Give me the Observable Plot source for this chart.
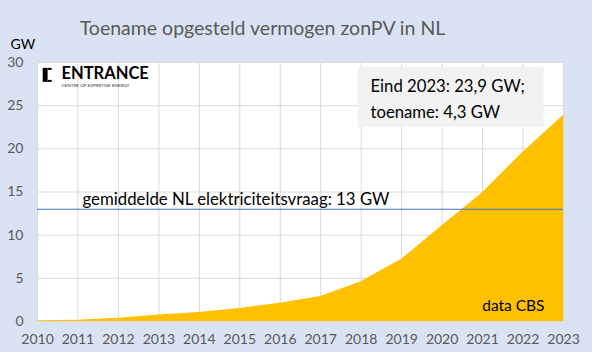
<!DOCTYPE html>
<html><head><meta charset="utf-8">
<script src="https://cdn.jsdelivr.net/npm/d3@7"></script>
<script src="https://cdn.jsdelivr.net/npm/@observablehq/plot@0.6"></script>
<style>
body{margin:0;background:#DAE3F3;}
#chart svg{display:block;}
</style>
</head><body><div id="chart"></div>
<script>
const years = [2010,2011,2012,2013,2014,2015,2016,2017,2018,2019,2020,2021,2022,2023];
const capacityGW = [0.09,0.15,0.37,0.74,1.05,1.52,2.1,2.9,4.6,7.2,11.1,14.9,19.6,23.9];
const yTicks = [0,5,10,15,20,25,30];
const demandGW = 13;
const titleText = "Toename opgesteld vermogen zonPV in NL";
const unitText = "GW";
const demandText = "gemiddelde NL elektriciteitsvraag: 13 GW";
const boxLines = "Eind 2023: 23,9 GW;\ntoename: 4,3 GW";
const sourceText = "data CBS";
const logoText = "ENTRANCE";
const logoSub = "CENTRE OF EXPERTISE ENERGY";
// annotation box extent in data units
const boxX = [2017.93, 2022.52];
const boxY = [22.5, 29.4];
// logo bracket pieces (data units)
const logoParts = [
  {x1: 2010.141, x2: 2010.262, y1: 27.70, y2: 29.32},
  {x1: 2010.262, x2: 2010.363, y1: 29.09, y2: 29.32},
  {x1: 2010.262, x2: 2010.363, y1: 27.70, y2: 27.93}
];

const data = years.map((y, i) => ({year: y, gw: capacityGW[i]}));
const font = "Lato, 'Open Sans', sans-serif";

const chart = Plot.plot({
  width: 592,
  height: 352,
  marginLeft: 37,
  marginRight: 29,
  marginTop: 62,
  marginBottom: 31,
  style: {background: "#DAE3F3", fontFamily: font, fontSize: "14px", color: "#595959"},
  x: {domain: [2010, 2023], ticks: years, tickFormat: d => String(d), label: null},
  y: {domain: [0, 30], ticks: yTicks, label: null},
  marks: [
    Plot.frame({fill: "white", stroke: null}),
    Plot.gridX(years, {stroke: "#D9D9D9", strokeOpacity: 1}),
    Plot.gridY(yTicks, {stroke: "#D9D9D9", strokeOpacity: 1}),
    Plot.areaY(data, {x: "year", y: "gw", fill: "#FFC000"}),
    Plot.ruleY([demandGW], {stroke: "#4472C4", strokeWidth: 1}),
    Plot.axisX({ticks: years, tickSize: 0, tickPadding: 13, tickFormat: d => String(d), fill: "#595959", fontSize: 14}),
    Plot.axisY({ticks: yTicks, tickSize: 0, tickPadding: 14, fill: "#595959", fontSize: 14}),
    Plot.rect([{x1: boxX[0], x2: boxX[1], y1: boxY[0], y2: boxY[1]}], {x1: "x1", x2: "x2", y1: "y1", y2: "y2", fill: "#F2F2F2"}),
    Plot.text([boxLines], {frameAnchor: "top-left", dx: 333, dy: 34, textAnchor: "start", lineAnchor: "middle", lineHeight: 1.56, fontSize: 16.7, fill: "black"}),
    Plot.text([{y: demandGW, t: demandText}], {y: "y", text: "t", frameAnchor: "left", dx: 45, dy: -10, textAnchor: "start", lineAnchor: "middle", fontSize: 16.8, fill: "black"}),
    Plot.text([sourceText], {frameAnchor: "bottom-right", dx: -19, dy: -15, textAnchor: "end", lineAnchor: "middle", fontSize: 15.5, fill: "black"}),
    Plot.text([titleText], {frameAnchor: "top", dx: -38, dy: -34, lineAnchor: "middle", fontSize: 19.5, fill: "#595959"}),
    Plot.text([unitText], {frameAnchor: "top-left", dx: -27, dy: -18, textAnchor: "start", lineAnchor: "middle", fontSize: 14, fill: "black"}),
    Plot.rect(logoParts, {x1: "x1", x2: "x2", y1: "y1", y2: "y2", fill: "black"}),
    Plot.text([logoText], {frameAnchor: "top-left", dx: 24, dy: 11.5, textAnchor: "start", lineAnchor: "middle", fontSize: 16.5, fontWeight: "bold", fill: "black"}),
    Plot.text([logoSub], {frameAnchor: "top-left", dx: 24, dy: 23, textAnchor: "start", lineAnchor: "middle", fontSize: 4.6, fill: "#333", letterSpacing: "0.7px"})
  ]
});
document.getElementById("chart").appendChild(chart);
</script>
</body></html>
